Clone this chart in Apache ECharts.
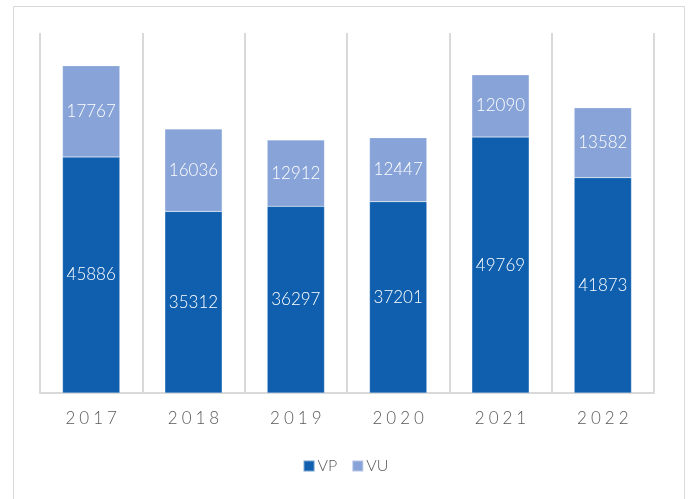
<!DOCTYPE html>
<html>
<head>
<meta charset="utf-8">
<script src="https://cdn.jsdelivr.net/npm/echarts@6/dist/echarts.min.js"></script>
<style>html,body{margin:0;padding:0;background:#fff}#c{width:691px;height:499px}</style>
</head>
<body>
<div id="c"></div>
<script>
const categories = ['2017', '2018', '2019', '2020', '2021', '2022'];
const vpValues = [45886, 35312, 36297, 37201, 49769, 41873];
const vuValues = [17767, 16036, 12912, 12447, 12090, 13582];
const seriesNames = ['VP', 'VU'];

const FONT = 'Lato, "Noto Sans", sans-serif';
const chart = echarts.init(document.getElementById('c'), null, {renderer: 'canvas'});
const labelStyle = {
  show: true, position: 'inside', color: '#ffffff',
  fontFamily: FONT, fontSize: 17, fontWeight: 300
};
chart.setOption({
  animation: false,
  backgroundColor: '#ffffff',
  graphic: [{
    type: 'rect', left: 11, top: 4,
    shape: {width: 671, height: 520},
    style: {fill: 'none', stroke: '#d9d9d9', lineWidth: 1}
  }],
  grid: {left: 40, right: 37, top: 33, bottom: 106},
  legend: {
    bottom: 20, left: 'center', itemWidth: 11, itemHeight: 11, itemGap: 14,
    icon: 'rect',
    textStyle: {color: '#595959', fontSize: 16, fontFamily: FONT, fontWeight: 300, padding: [0, 0, 0, -2]},
    data: seriesNames
  },
  xAxis: {
    type: 'category', data: categories, boundaryGap: true,
    axisLine: {show: true, lineStyle: {color: '#d9d9d9', width: 2}},
    axisTick: {show: false, interval: 0},
    splitLine: {show: true, interval: 0, lineStyle: {color: '#d9d9d9', width: 2}},
    axisLabel: {
      interval: 0,
      color: '#595959', fontSize: 17, margin: 17, fontFamily: FONT, fontWeight: 300,
      formatter: function (v) { return v.split('').map(function (ch) { return '{s|' + ch + '}'; }).join(''); },
      rich: {s: {color: '#595959', fontSize: 17, fontFamily: FONT, fontWeight: 300, padding: [0, 2]}}
    }
  },
  yAxis: {
    type: 'value', min: 0, max: 70000, interval: 10000,
    axisLabel: {show: false}, axisLine: {show: false}, axisTick: {show: false},
    splitLine: {show: false}
  },
  series: [
    {name: seriesNames[0], type: 'bar', stack: 'a', data: vpValues, barWidth: '56%',
     itemStyle: {color: '#0F5FAE', borderColor: 'rgba(255,255,255,0.4)', borderWidth: 0.5},
     label: labelStyle},
    {name: seriesNames[1], type: 'bar', stack: 'a', data: vuValues, barWidth: '56%',
     itemStyle: {color: '#87A3D7', borderColor: 'rgba(255,255,255,0.4)', borderWidth: 0.5},
     label: labelStyle}
  ]
});
</script>
</body>
</html>
